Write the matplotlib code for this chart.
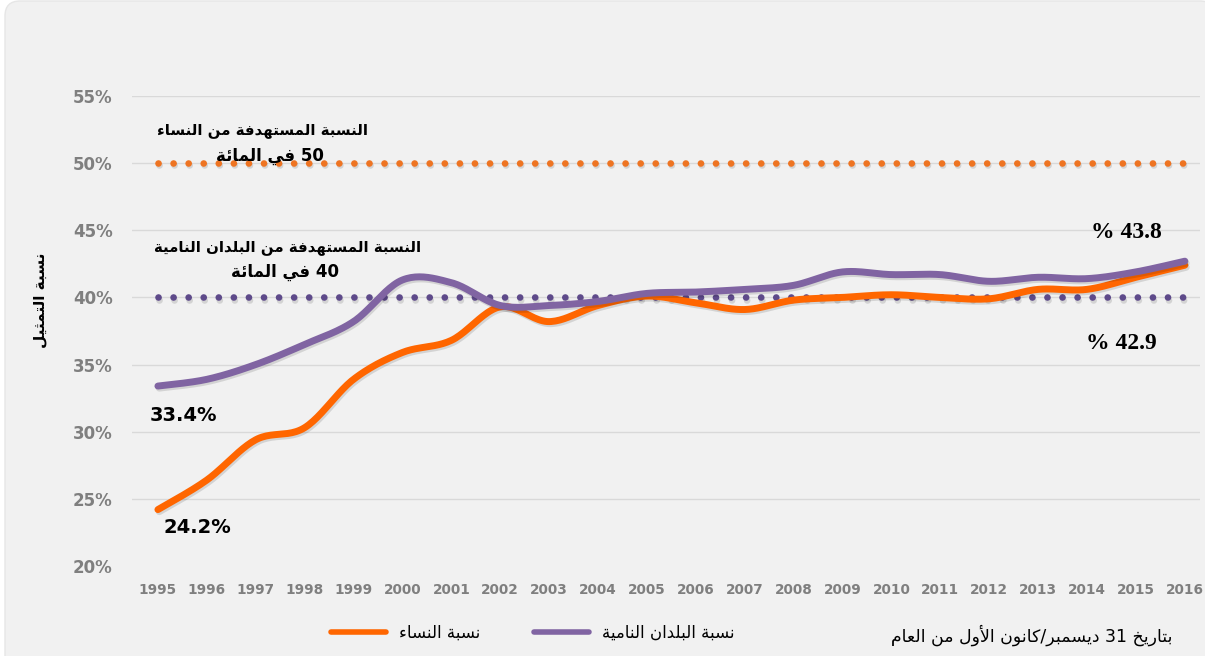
import re
import numpy as np
import matplotlib
matplotlib.use('Agg')
import matplotlib.pyplot as plt
import matplotlib.patheffects as pe
from matplotlib.patches import FancyBboxPatch
from matplotlib.lines import Line2D

years = list(range(1995, 2017))
women = [24.2, 26.4, 29.4, 30.3, 33.9, 35.9, 36.8, 39.3, 38.2, 39.4, 40.1,
         39.6, 39.1, 39.8, 40.0, 40.2, 40.0, 39.9, 40.6, 40.6, 41.5, 42.4]
developing = [33.4, 33.9, 35.0, 36.5, 38.2, 41.3, 41.1, 39.4, 39.4, 39.7, 40.3,
              40.4, 40.6, 40.9, 41.9, 41.7, 41.7, 41.2, 41.5, 41.4, 41.9, 42.7]
target_women = 50
target_developing = 40
yticks = [20, 25, 30, 35, 40, 45, 50, 55]

# --- minimal arabic shaping (matplotlib has no shaping / bidi) ---
AR = {'ء': (0xFE80, 1), 'آ': (0xFE81, 2), 'أ': (0xFE83, 2), 'ؤ': (0xFE85, 2),
      'إ': (0xFE87, 2), 'ئ': (0xFE89, 4), 'ا': (0xFE8D, 2), 'ب': (0xFE8F, 4),
      'ة': (0xFE93, 2), 'ت': (0xFE95, 4), 'ث': (0xFE99, 4), 'ج': (0xFE9D, 4),
      'ح': (0xFEA1, 4), 'خ': (0xFEA5, 4), 'د': (0xFEA9, 2), 'ذ': (0xFEAB, 2),
      'ر': (0xFEAD, 2), 'ز': (0xFEAF, 2), 'س': (0xFEB1, 4), 'ش': (0xFEB5, 4),
      'ص': (0xFEB9, 4), 'ض': (0xFEBD, 4), 'ط': (0xFEC1, 4), 'ظ': (0xFEC5, 4),
      'ع': (0xFEC9, 4), 'غ': (0xFECD, 4), 'ف': (0xFED1, 4), 'ق': (0xFED5, 4),
      'ك': (0xFED9, 4), 'ل': (0xFEDD, 4), 'م': (0xFEE1, 4), 'ن': (0xFEE5, 4),
      'ه': (0xFEE9, 4), 'و': (0xFEED, 2), 'ى': (0xFEEF, 2), 'ي': (0xFEF1, 4)}
LAM_ALEF = {'آ': 0xFEF5, 'أ': 0xFEF7, 'إ': 0xFEF9, 'ا': 0xFEFB}


def shape(s):
    out = []
    i, n = 0, len(s)
    while i < n:
        c = s[i]
        if c not in AR:
            out.append(c)
            i += 1
            continue
        prev = s[i - 1] if i > 0 else ''
        p = prev in AR and AR[prev][1] == 4
        if c == 'ل' and i + 1 < n and s[i + 1] in LAM_ALEF:
            out.append(chr(LAM_ALEF[s[i + 1]] + (1 if p else 0)))
            i += 2
            continue
        nx = s[i + 1] if i + 1 < n else ''
        base, k = AR[c]
        nj = k == 4 and nx in AR
        if k == 1:
            code = base
        elif p and nj:
            code = base + 3
        elif nj:
            code = base + 2
        elif p:
            code = base + 1
        else:
            code = base
        out.append(chr(code))
        i += 1
    return ''.join(out)


def ar(text):
    tokens = re.findall(r'[0-9]+(?:\.[0-9]+)?|.', shape(text))
    return ''.join(reversed(tokens))


def smooth(x, y, n=24):
    # excel style smoothed line (bezier through points)
    P = np.column_stack([x, y]).astype(float)
    P = np.vstack([P[0], P, P[-1]])
    xs, ys = [], []
    t = np.linspace(0, 1, n)[:, None]
    for i in range(1, len(P) - 2):
        p0, p3 = P[i], P[i + 1]
        p1 = p0 + (P[i + 1] - P[i - 1]) / 6
        p2 = p3 - (P[i + 2] - P[i]) / 6
        b = (1 - t) ** 3 * p0 + 3 * (1 - t) ** 2 * t * p1 + 3 * (1 - t) * t ** 2 * p2 + t ** 3 * p3
        xs.extend(b[:, 0]); ys.extend(b[:, 1])
    return xs, ys


orange = '#FF6600'
purple = '#8064A2'
shadow = [pe.SimpleLineShadow(offset=(1, -1.5), shadow_color='k', alpha=0.12), pe.Normal()]

fig = plt.figure(figsize=(12.05, 6.56), dpi=100, facecolor='white')
card = FancyBboxPatch((0.2, -0.5), 11.8, 6.9, boxstyle='round,pad=0.15',
                      transform=fig.dpi_scale_trans, facecolor='#F1F1F1',
                      edgecolor='#E6E6E6', lw=1, zorder=-5)
fig.patches.append(card)

ax = fig.add_axes([132 / 1205, 1 - 566 / 656, (1200 - 132) / 1205, (566 - 96) / 656])
ax.set_zorder(2)
ax.set_facecolor('none')
ax.set_xlim(1994.47, 2016.31)
ax.set_ylim(20, 55)
for s in ax.spines.values():
    s.set_visible(False)
for v in yticks[1:]:
    ax.axhline(v, color='#D9D9D9', lw=1, zorder=1)

ax.set_yticks(yticks)
ax.set_yticklabels([f'{v}%' for v in yticks], fontsize=12, fontweight='bold', color='#7F7F7F')
ax.set_xticks(years)
ax.set_xticklabels([str(y) for y in years], fontsize=9.8, fontweight='bold', color='#7F7F7F')
ax.tick_params(axis='y', length=0, pad=14)
ax.tick_params(axis='x', length=0, pad=12)

ax.plot([years[0], years[-1]], [target_women] * 2, color='#EE7422', lw=4.8,
        linestyle=(0, (0.01, 2.25)), dash_capstyle='round', zorder=2, path_effects=shadow)
ax.plot([years[0], years[-1]], [target_developing] * 2, color='#5E4A8A', lw=4.8,
        linestyle=(0, (0.01, 2.25)), dash_capstyle='round', zorder=2, path_effects=shadow)

xs, ys = smooth(years, women)
ax.plot(xs, ys, color=orange, lw=5, solid_capstyle='round', zorder=3, path_effects=shadow)
xs, ys = smooth(years, developing)
ax.plot(xs, ys, color=purple, lw=5, solid_capstyle='round', zorder=4, path_effects=shadow)

tfont = dict(fontsize=10.8, fontweight='bold', color='black', ha='center', va='center',
             family='DejaVu Sans', zorder=6)
ax.text(1997.13, 52.46, ar('النسبة المستهدفة من النساء'), **tfont)
ax.text(1997.29, 50.5, ar('50 في المائة'), **dict(tfont, fontsize=12))
ax.text(1997.66, 43.75, ar('النسبة المستهدفة من البلدان النامية'), **tfont)
ax.text(1997.6, 41.89, ar('40 في المائة'), **dict(tfont, fontsize=12))

ax.text(1995.53, 31.24, '33.4%', fontsize=14, fontweight='bold', ha='center', va='center')
ax.text(1995.8, 22.83, '24.2%', fontsize=14, fontweight='bold', ha='center', va='center')
ax.text(2014.8, 44.87, '% 43.8', fontsize=17, fontweight='bold', family='Liberation Serif',
        ha='center', va='center')
ax.text(2014.7, 36.6, '% 42.9', fontsize=17, fontweight='bold', family='Liberation Serif',
        ha='center', va='center')

fig.text(40 / 1205, 1 - 300 / 656, ar('نسبة التمثيل'), rotation=90, fontsize=11,
         fontweight='bold', ha='center', va='center')

handles = [Line2D([], [], color=orange, lw=4, solid_capstyle='round'),
           Line2D([], [], color=purple, lw=4, solid_capstyle='round')]
fig.legend(handles, [ar('نسبة النساء'), ar('نسبة البلدان النامية')], ncol=2,
           loc='center left', bbox_to_anchor=(316 / 1205, 1 - 633 / 656), frameon=False,
           fontsize=12, handlelength=3.3, handletextpad=0.8, columnspacing=3.2)
fig.text(1032 / 1205, 1 - 635 / 656, ar('بتاريخ 31 ديسمبر/كانون الأول من العام'),
         fontsize=12.5, ha='center', va='center')

fig.savefig('out.png', dpi=100, facecolor='white')
